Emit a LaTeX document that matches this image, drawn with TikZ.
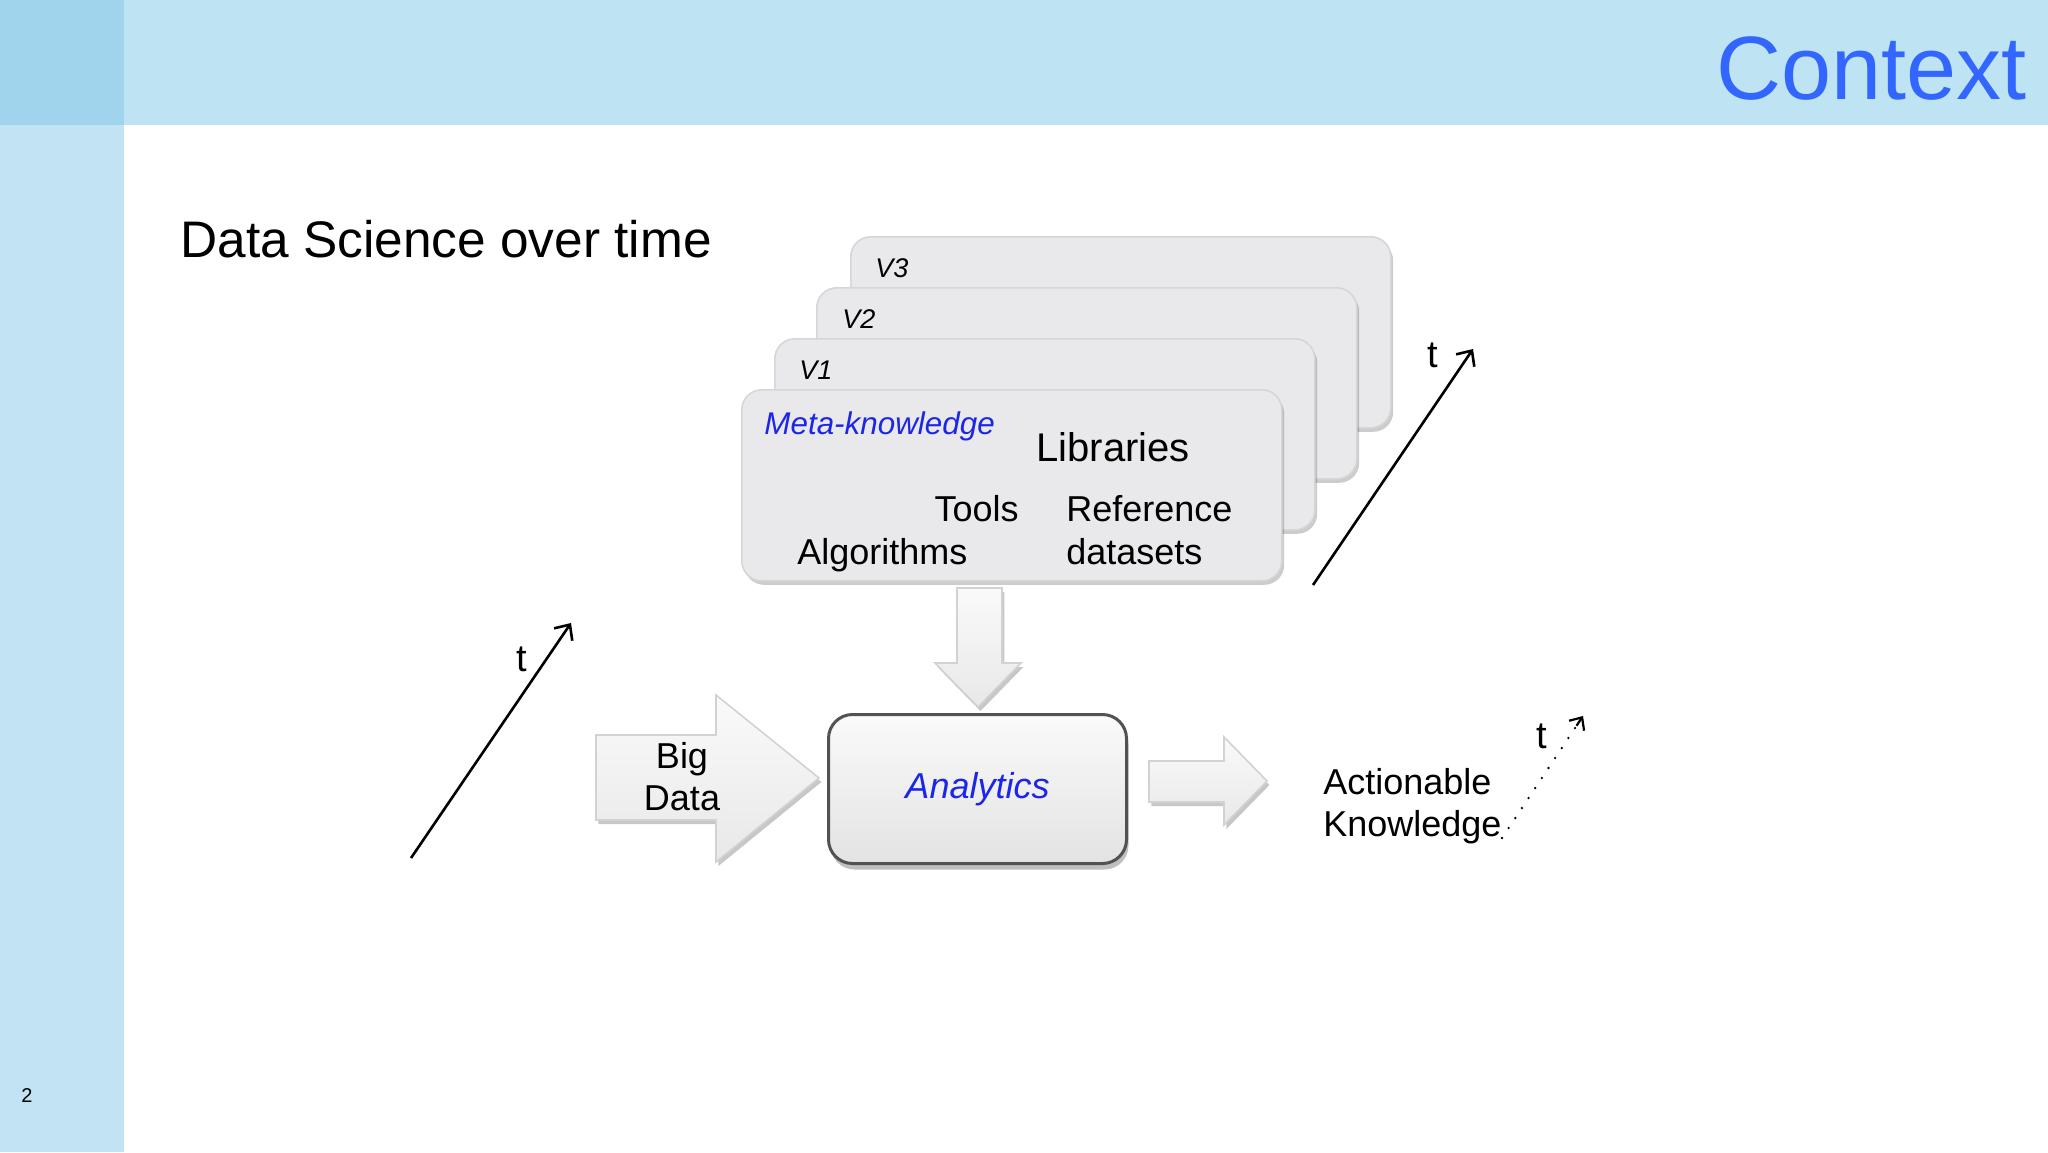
\documentclass[tikz,border=0pt]{standalone}
\usepackage{fontspec}
\setmainfont{Liberation Sans}
\usetikzlibrary{arrows.meta,shadows,calc}
\definecolor{sidec}{RGB}{193,227,244}
\definecolor{sidetop}{RGB}{159,212,236}
\definecolor{headc}{RGB}{190,228,243}
\definecolor{titleblue}{RGB}{51,102,255}
\definecolor{metablue}{RGB}{28,38,230}
\definecolor{cardfill}{RGB}{233,232,234}
\definecolor{cardedge}{RGB}{214,214,216}
\begin{document}
\begin{tikzpicture}[x=0.5pt,y=-0.5pt,
  card/.style={draw=cardedge, line width=0.8pt, fill=cardfill, rounded corners=10pt,
    anchor=north west, inner sep=0pt, minimum width=270pt, minimum height=95.5pt,
    drop shadow={shadow xshift=1.2pt, shadow yshift=-2pt, opacity=0.2, fill=black}},
  vlabel/.style={anchor=base west, font=\fontsize{13.5pt}{16pt}\selectfont\itshape, inner sep=0pt},
  cardtext/.style={font=\fontsize{18pt}{22pt}\selectfont, inner sep=0pt},
  blockarrow/.style={draw=gray!35, line width=0.8pt, top color=gray!4, bottom color=gray!18,
    drop shadow={shadow xshift=1.2pt, shadow yshift=-2pt, opacity=0.22, fill=black}},
  tarrow/.style={line width=1.3pt, -{Straight Barb[length=6pt,width=11pt,line width=1.3pt]}},
  tlabel/.style={anchor=base, font=\fontsize{19pt}{22pt}\selectfont, inner sep=0pt},
  bodytext/.style={font=\fontsize{18pt}{21pt}\selectfont, inner sep=0pt}
]
\useasboundingbox (0,0) rectangle (2048,1152);
\fill[white] (0,0) rectangle (2048,1152);
\fill[headc] (124,0) rectangle (2048,125);
\fill[sidec] (0,125) rectangle (124,1152);
\fill[sidetop] (0,0) rectangle (124,125);

\node[anchor=base east, text=titleblue, font=\fontsize{45pt}{52pt}\selectfont, inner sep=0pt] (title) at (2027,99) {Context};
\node[anchor=base west, font=\fontsize{25.7pt}{30pt}\selectfont, inner sep=0pt] (sub) at (180,257) {Data Science over time};
\node[font=\fontsize{10pt}{12pt}\selectfont, inner sep=0pt] (pageno) at (27,1095) {2};

% stacked cards
\node[card] (v3) at (850,236) {};
\node[vlabel] (v3t) at (875,277) {V3};
\node[card] (v2) at (816,287) {};
\node[vlabel] (v2t) at (842,328) {V2};
\node[card] (v1) at (774,338) {};
\node[vlabel] (v1t) at (799,379) {V1};
\node[card] (front) at (741,389) {};

\node[anchor=base west, text=metablue, font=\fontsize{15.7pt}{19pt}\selectfont\itshape, inner sep=0pt] (meta) at (764,434) {Meta-knowledge};
\node[anchor=base west, font=\fontsize{20pt}{24pt}\selectfont, inner sep=0pt] (libs) at (1036,461) {Libraries};
\node[cardtext, anchor=base east] (tools) at (1019,521) {Tools};
\node[cardtext, anchor=base west] (algo) at (797,564) {Algorithms};
\node[cardtext, anchor=base west] (ref) at (1066,521) {Reference};
\node[cardtext, anchor=base west] (data) at (1066,564) {datasets};

% down block arrow
\path[blockarrow] (957,588) -- (1002,588) -- (1002,663) -- (1021,663) -- (978,707) -- (935,663) -- (957,663) -- cycle;

% analytics box
\node[anchor=north west, inner sep=0pt, minimum width=149pt, minimum height=74.5pt,
  rounded corners=12pt, draw=black!68, line width=1.5pt, top color=gray!4, bottom color=gray!22,
  drop shadow={shadow xshift=1pt, shadow yshift=-3pt, opacity=0.25, fill=black},
  text=metablue, font=\fontsize{18pt}{22pt}\selectfont\itshape] (ana) at (827,713) {Analytics};

% big data arrow
\path[blockarrow] (596,735) -- (716,735) -- (716,695) -- (819,778) -- (716,862) -- (716,820) -- (596,820) -- cycle;
\node[bodytext, anchor=base] (big) at (682,768) {Big};
\node[bodytext, anchor=base] (bdata) at (682,810) {Data};

% output arrow
\path[blockarrow] (1149,761) -- (1224,761) -- (1224,737) -- (1267,781) -- (1224,825) -- (1224,802) -- (1149,802) -- cycle;
\node[bodytext, anchor=base west] (act) at (1323,794) {Actionable};
\node[bodytext, anchor=base west] (know) at (1323,836) {Knowledge};

% time arrows
\coordinate (l1) at (411,858); \coordinate (l2) at (571,623);
\draw[tarrow] (l1) -- (l2);
\node[tlabel] (lt) at (522,671) {t};
\coordinate (r1) at (1313,585); \coordinate (r2) at (1473,349);
\draw[tarrow] (r1) -- (r2);
\node[tlabel] (rt) at (1433,367) {t};
\coordinate (d1) at (1502,838); \coordinate (d2) at (1583,716);
\coordinate (d3) at ($(d1)!0.92!(d2)$);
\draw[line width=1.3pt, line cap=round, dash pattern=on 0pt off 6pt] (d1) -- (d2);
\draw[line width=1.1pt, -{Straight Barb[length=5pt,width=9pt,line width=1.1pt]}] (d3) -- (d2);
\node[tlabel] (dt) at (1542,748) {t};
\end{tikzpicture}
\end{document}
